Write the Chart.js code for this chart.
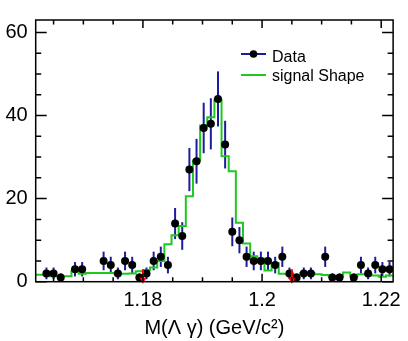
<!DOCTYPE html>
<html lang="en">
<head>
  <meta charset="UTF-8">
  <title>M(Lambda gamma) fit</title>
  <style>
    body {
      margin: 0;
      background-color: #ffffff;
    }
    #wrap {
      width: 408px;
      height: 341px;
    }
  </style>
  <script src="https://cdn.jsdelivr.net/npm/chart.js"></script>
</head>
<body>
  <div id="wrap">
    <canvas id="massChart" width="408" height="341"></canvas>
  </div>

  <script>
    // histogram binning (50 bins of 1.2 MeV)
    const xMin = 1.162;
    const xMax = 1.222;
    const binWidth = 0.0012;

    // data counts per bin
    const dataCounts = [0, 2, 2, 1, 0, 3, 3, 0, 0, 5,
                        4, 2, 5, 4, 1, 2, 5, 6, 4, 14,
                        11, 27, 29, 37, 38, 44, 33, 12, 10, 6,
                        5, 5, 5, 4, 6, 2, 1, 2, 2, 0,
                        6, 1, 1, 0, 1, 4, 2, 4, 3, 3];
    const dataErrors = [0, 1.41, 1.41, 1, 0, 1.73, 1.73, 0, 0, 2.24,
                        2, 1.41, 2.24, 2, 1, 1.41, 2.24, 2.45, 2, 3.74,
                        3.32, 5.2, 5.39, 6.08, 6.16, 6.63, 5.74, 3.46, 3.16, 2.45,
                        2.24, 2.24, 2.24, 2, 2.45, 1.41, 1, 1.41, 1.41, 0,
                        2.45, 1, 1, 0, 1, 2, 1.41, 2, 1.73, 1.73];
    // signal shape histogram
    const signalShape = [1.7, 1.7, 1.3, 1.3, 1.3, 2.6, 1.9, 2.1, 2.1, 2.1,
                         2.1, 1.9, 1.9, 2.0, 2.5, 2.8, 3.4, 5.0, 9.0, 11.2,
                         13.4, 20.6, 29.2, 37.6, 39.6, 43.8, 30.2, 26.6, 14.2, 9.2,
                         6.1, 5.6, 2.7, 4.5, 1.9, 1.8, 1.7, 2.1, 2.1, 1.8,
                         1.6, 1.2, 1.2, 2.2, 1.3, 1.8, 1.8, 1.5, 1.2, 1.5];

    // red arrows (mass window)
    const arrowX = [1.18, 1.205];
    const arrowTop = 3;

    // axes
    const yMax = 63;
    const xMajorTicks = [1.18, 1.2, 1.22];
    const xMinorTicks = [1.165, 1.17, 1.175, 1.185, 1.19, 1.195, 1.205, 1.21, 1.215];
    const yMajorTicks = [0, 20, 40, 60];
    const yMinorTicks = [5, 10, 15, 25, 30, 35, 45, 50, 55];
    const xTitle = 'M(\u039B \u03B3) (GeV/c\u00B2)';
    const legendLabels = ['Data', 'signal Shape'];

    const FONT = '"Liberation Sans", Arial, Helvetica, sans-serif';
    const BLUE = '#1c1c9e';
    const GREEN = '#1fc81f';

    // points for the plot
    const dataPoints = [];
    const errorBars = [];
    dataCounts.forEach((n, i) => {
      if (n > 0) {
        const xc = xMin + (i + 0.5) * binWidth;
        dataPoints.push({ x: xc, y: n });
        errorBars.push({ x: xc, lo: n - dataErrors[i], hi: n + dataErrors[i] });
      }
    });
    // bin low edges, plus the upper edge of the last bin
    const shapePoints = signalShape.map((v, i) => ({ x: xMin + i * binWidth, y: v }));
    shapePoints.push({ x: xMax, y: signalShape[signalShape.length - 1] });

    // error bars under the markers
    const errorBarPlugin = {
      id: 'errorBars',
      beforeDatasetsDraw(chart) {
        const ctx = chart.ctx;
        const xs = chart.scales.x, ys = chart.scales.y;
        ctx.save();
        ctx.strokeStyle = BLUE;
        ctx.lineWidth = 2;
        errorBars.forEach(e => {
          const px = xs.getPixelForValue(e.x);
          ctx.beginPath();
          ctx.moveTo(px, ys.getPixelForValue(e.lo));
          ctx.lineTo(px, ys.getPixelForValue(e.hi));
          ctx.stroke();
        });
        ctx.restore();
      }
    };

    // red arrows pointing down to the axis
    const arrowPlugin = {
      id: 'arrows',
      afterDatasetsDraw(chart) {
        const ctx = chart.ctx;
        const xs = chart.scales.x, ys = chart.scales.y;
        ctx.save();
        ctx.strokeStyle = '#ff0000';
        ctx.fillStyle = '#ff0000';
        ctx.lineWidth = 2;
        arrowX.forEach(v => {
          const px = xs.getPixelForValue(v);
          const top = ys.getPixelForValue(arrowTop);
          const bot = ys.getPixelForValue(0) + 2;
          ctx.beginPath();
          ctx.moveTo(px, top);
          ctx.lineTo(px, bot - 4);
          ctx.stroke();
          ctx.beginPath();
          ctx.moveTo(px - 3.5, bot - 6);
          ctx.lineTo(px + 3.5, bot - 6);
          ctx.lineTo(px, bot);
          ctx.closePath();
          ctx.fill();
        });
        ctx.restore();
      }
    };

    // ROOT style frame with inward ticks on all four sides, plus legend
    const framePlugin = {
      id: 'frame',
      afterDraw(chart) {
        const ctx = chart.ctx;
        const a = chart.chartArea;
        const xs = chart.scales.x, ys = chart.scales.y;
        ctx.save();
        ctx.strokeStyle = '#000';
        ctx.lineWidth = 1.5;
        ctx.strokeRect(a.left, a.top, a.right - a.left, a.bottom - a.top);

        const xTick = (v, len) => {
          const px = xs.getPixelForValue(v);
          ctx.moveTo(px, a.bottom); ctx.lineTo(px, a.bottom - len);
          ctx.moveTo(px, a.top); ctx.lineTo(px, a.top + len);
        };
        const yTick = (v, len) => {
          const py = ys.getPixelForValue(v);
          ctx.moveTo(a.left, py); ctx.lineTo(a.left + len, py);
          ctx.moveTo(a.right, py); ctx.lineTo(a.right - len, py);
        };
        ctx.beginPath();
        xMajorTicks.forEach(v => xTick(v, 8));
        xMinorTicks.forEach(v => xTick(v, 4.5));
        yMajorTicks.forEach(v => yTick(v, 11));
        yMinorTicks.forEach(v => yTick(v, 5.5));
        ctx.stroke();

        // legend
        ctx.lineWidth = 2;
        ctx.strokeStyle = BLUE;
        ctx.beginPath();
        ctx.moveTo(241, 54); ctx.lineTo(266, 54);
        ctx.stroke();
        ctx.fillStyle = '#000';
        ctx.beginPath();
        ctx.arc(253.5, 54, 3.8, 0, Math.PI * 2);
        ctx.fill();
        ctx.strokeStyle = GREEN;
        ctx.beginPath();
        ctx.moveTo(241, 75); ctx.lineTo(266, 75);
        ctx.stroke();
        ctx.font = '16px ' + FONT;
        ctx.textBaseline = 'alphabetic';
        ctx.textAlign = 'left';
        ctx.fillText(legendLabels[0], 272, 61.5);
        ctx.fillText(legendLabels[1], 272, 81);
        ctx.restore();
      }
    };

    const ctx = document.getElementById('massChart').getContext('2d');
    new Chart(ctx, {
      data: {
        datasets: [
          {
            type: 'scatter',
            label: legendLabels[0],
            data: dataPoints,
            pointRadius: 4,
            pointBackgroundColor: '#000',
            pointBorderWidth: 0,
            showLine: false,
            order: 0
          },
          {
            type: 'line',
            label: legendLabels[1],
            data: shapePoints,
            // Chart.js 'before': horizontal at this bin's value, step at next edge
            stepped: 'before',
            borderColor: GREEN,
            borderWidth: 2,
            pointRadius: 0,
            fill: false,
            order: 1
          }
        ]
      },
      options: {
        responsive: false,
        animation: false,
        layout: { padding: { top: 7, right: 10, left: 0, bottom: 0 } },
        plugins: {
          legend: { display: false },
          tooltip: { enabled: false }
        },
        scales: {
          x: {
            type: 'linear',
            min: xMin,
            max: xMax,
            grid: { display: false, drawTicks: false },
            border: { display: false },
            afterBuildTicks: s => { s.ticks = xMajorTicks.map(v => ({ value: v })); },
            afterFit: s => { s.height = 59.3; },
            ticks: {
              padding: 7,
              color: '#000',
              font: { family: FONT, size: 20 },
              callback: v => String(Math.round(v * 100) / 100)
            },
            title: {
              display: true,
              text: xTitle,
              color: '#000',
              font: { family: FONT, size: 20 },
              padding: { top: 0, bottom: 1 }
            }
          },
          y: {
            min: 0,
            max: yMax,
            grid: { display: false, drawTicks: false },
            border: { display: false },
            afterBuildTicks: s => { s.ticks = yMajorTicks.map(v => ({ value: v })); },
            afterFit: s => { s.width = 35.7; },
            ticks: {
              padding: 8,
              color: '#000',
              font: { family: FONT, size: 20 }
            }
          }
        }
      },
      plugins: [errorBarPlugin, arrowPlugin, framePlugin]
    });
  </script>
</body>
</html>
